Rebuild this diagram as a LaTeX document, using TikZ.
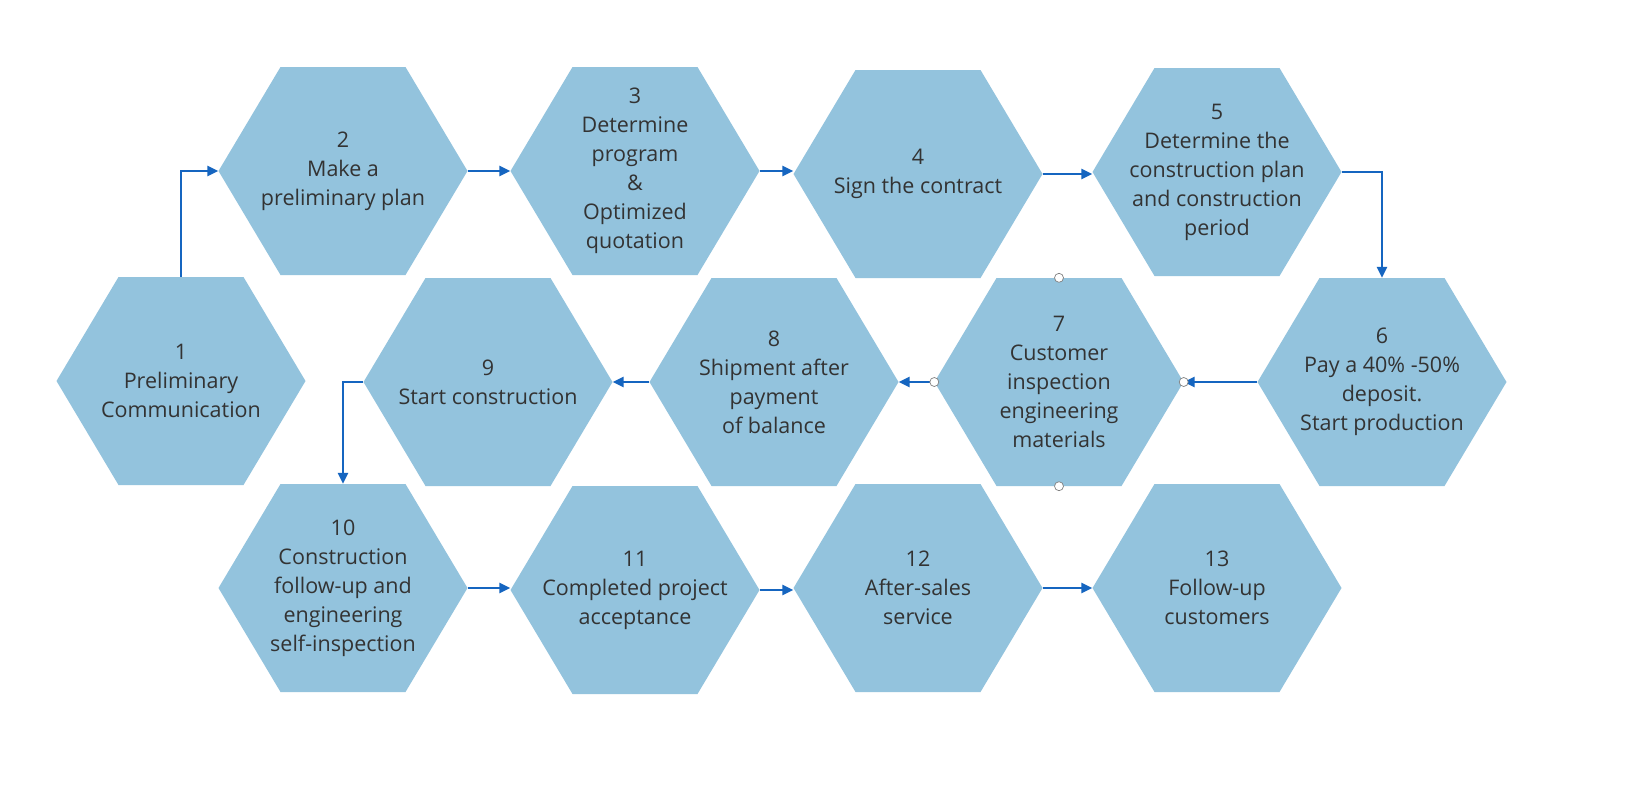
\documentclass[tikz,border=0pt]{standalone}
\usepackage{fontspec}
\setmainfont{Open Sans}
\usetikzlibrary{arrows.meta}
\definecolor{hexc}{HTML}{93C3DD}
\definecolor{arr}{HTML}{1565C0}
\definecolor{txt}{HTML}{333333}
\tikzset{
 hx/.style={minimum width=249pt,minimum height=208pt,inner sep=0pt,align=center,text=txt,font=\fontsize{21.5}{29}\selectfont},
 ar/.style={draw=arr,line width=2.4pt,-{Triangle[length=11pt,width=10pt]}},
 hd/.style={circle,draw=gray,fill=white,inner sep=0pt,minimum size=9pt,line width=0.7pt}
}
\newcommand\hexa[4]{%
 \fill[hexc] (#2-124.5,#3) -- (#2-62.5,#3-104) -- (#2+62.5,#3-104) -- (#2+124.5,#3) -- (#2+62.5,#3+104) -- (#2-62.5,#3+104) -- cycle;
 \node[hx] (#1) at (#2,#3) {#4};}
\begin{document}
\begin{tikzpicture}[x=1pt,y=-1pt]
\useasboundingbox[fill=white] (0,0) rectangle (1633,801);
\hexa{h1}{181}{381}{1\\Preliminary\\Communication}
\hexa{h2}{343}{171}{2\\Make a\\preliminary plan}
\hexa{h3}{635}{171}{3\\Determine\\program\\\&\\Optimized\\quotation}
\hexa{h4}{918}{174}{4\\Sign the contract}
\hexa{h5}{1217}{172}{5\\Determine the\\construction plan\\and construction\\period}
\hexa{h6}{1382}{382}{6\\Pay a 40\% -50\%\\deposit.\\Start production}
\hexa{h7}{1059}{382}{7\\Customer\\inspection\\engineering\\materials}
\hexa{h8}{774}{382}{8\\Shipment after\\payment\\of balance}
\hexa{h9}{488}{382}{9\\Start construction}
\hexa{h10}{343}{588}{10\\Construction\\follow-up and\\engineering\\self-inspection}
\hexa{h11}{635}{590}{11\\Completed project\\acceptance}
\hexa{h12}{918}{588}{12\\After-sales\\service}
\hexa{h13}{1217}{588}{13\\Follow-up\\customers}
\draw[ar] (h1.north) -- (h1.north |- h2.west) -- (h2.west);
\draw[ar] (h2.east) -- (h3.west);
\draw[ar] (h3.east) -- (h3.east -| h4.west);
\draw[ar] (h4.east) -- (h4.east -| h5.west);
\draw[ar] (h5.east) -- (h5.east -| h6.north) -- (h6.north);
\draw[ar] (h6.west) -- (h7.east);
\draw[ar] (h7.west) -- (h8.east);
\draw[ar] (h8.west) -- (h9.east);
\draw[ar] (h9.west) -- (h9.west -| h10.north) -- (h10.north);
\draw[ar] (h10.east) -- (h10.east -| h11.west);
\draw[ar] (h11.east) -- (h11.east -| h12.west);
\draw[ar] (h12.east) -- (h13.west);
\node[hd] (c1) at (h7.east) {};
\node[hd] (c2) at (h7.west) {};
\node[hd] (c3) at (h7.north) {};
\node[hd] (c4) at (h7.south) {};
\end{tikzpicture}
\end{document}
